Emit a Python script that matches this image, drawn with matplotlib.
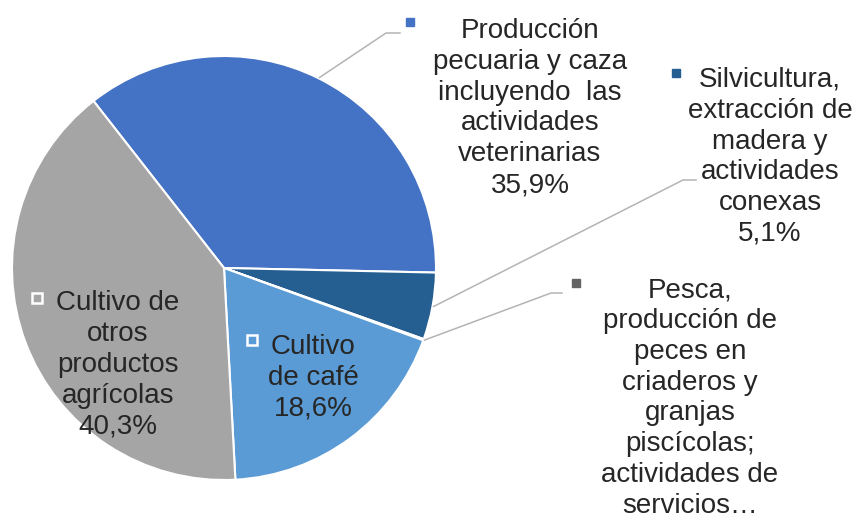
import numpy as np
import matplotlib.pyplot as plt

plt.rcParams['font.family'] = ['Liberation Sans', 'DejaVu Sans']

# Data
labels = [
    'Producción\npecuaria y caza\nincluyendo  las\nactividades\nveterinarias',
    'Silvicultura,\nextracción de\nmadera y\nactividades\nconexas',
    'Pesca,\nproducción de\npeces en\ncriaderos y\ngranjas\npiscícolas;\nactividades de\nservicios…',
    'Cultivo\nde café',
    'Cultivo de\notros\nproductos\nagrícolas',
]
shares = [35.9, 5.1, 0.1, 18.6, 40.3]
pct_labels = ['35,9%', '5,1%', '', '18,6%', '40,3%']
colors = ['#4472C4', '#255E91', '#636363', '#5B9BD5', '#A5A5A5']

W, H = 860, 519
CX, CY, R = 224, 268, 212  # pie centre / radius in pixels


def px(x, y):
    # pixel (from top-left) -> data units (pie radius = 1)
    return (x - CX) / R, ((H - y) - (H - CY)) / R


fig = plt.figure(figsize=(W / 100, H / 100), dpi=100)
ax = fig.add_axes([0, 0, 1, 1])

wedges, _ = ax.pie(shares, colors=colors, startangle=128, counterclock=False,
                   radius=1, center=(0, 0), frame=True,
                   wedgeprops=dict(edgecolor='white', linewidth=1.5))
ax.set_xlim(-CX / R, (W - CX) / R)
ax.set_ylim(-(H - CY) / R, CY / R)
ax.set_aspect('auto')
ax.axis('off')

txt_kw = dict(ha='center', va='center', fontsize=20, color='#262626',
              linespacing=1.24, multialignment='center')

# outside labels: (text centre px, marker px, elbow px, elbow end px)
outside = {
    0: ((530, 108), (410, 22), (386, 33), (400, 33)),
    1: ((770, 157), (676, 73), (683, 180), (696, 180)),
    2: ((690, 398), (576, 283), (551, 293), (562, 293)),
}
for i, (tpos, mpos, elb, elb2) in outside.items():
    w = wedges[i]
    mid = np.deg2rad((w.theta1 + w.theta2) / 2)
    sx, sy = np.cos(mid) * 1.005, np.sin(mid) * 1.005
    ex, ey = px(*elb)
    fx, fy = px(*elb2)
    ax.plot([sx, ex, fx], [sy, ey, fy], color='#b4b4b4', lw=1.1, zorder=1)
    text = labels[i] + ('\n' + pct_labels[i] if pct_labels[i] else '')
    ax.text(*px(*tpos), text, **txt_kw)
    ax.plot(*px(*mpos), marker='s', ms=5.5, color=colors[i], mec=colors[i])

# inside labels
inside = {
    3: ((313, 378), (252, 340)),
    4: ((118, 365), (37, 298)),
}
for i, (tpos, mpos) in inside.items():
    ax.text(*px(*tpos), labels[i] + '\n' + pct_labels[i], **txt_kw)
    ax.plot(*px(*mpos), marker='s', ms=7.5, color=colors[i], mec='white', mew=1.8)

fig.savefig('out.png', dpi=100)
